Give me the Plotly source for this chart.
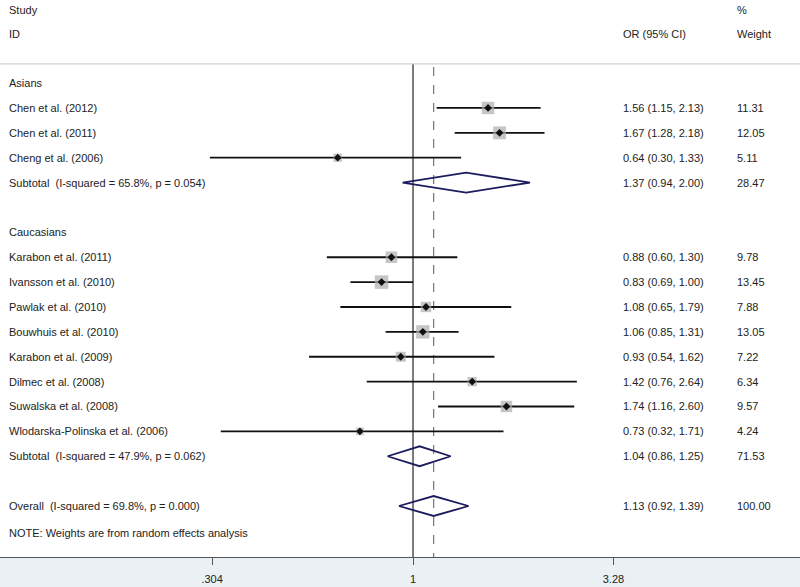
import plotly.graph_objects as go
import numpy as np

# ---------------- data ----------------
studies = ["Chen et al. (2012)", "Chen et al. (2011)", "Cheng et al. (2006)",
           "Karabon et al. (2011)", "Ivansson et al. (2010)", "Pawlak et al. (2010)",
           "Bouwhuis et al. (2010)", "Karabon et al. (2009)", "Dilmec et al. (2008)",
           "Suwalska et al. (2008)", "Wlodarska-Polinska et al. (2006)"]
study_rows = [1, 2, 3, 7, 8, 9, 10, 11, 12, 13, 14]
or_vals = [1.56, 1.67, 0.64, 0.88, 0.83, 1.08, 1.06, 0.93, 1.42, 1.74, 0.73]
ci_low = [1.15, 1.28, 0.30, 0.60, 0.69, 0.65, 0.85, 0.54, 0.76, 1.16, 0.32]
ci_high = [2.13, 2.18, 1.33, 1.30, 1.00, 1.79, 1.31, 1.62, 2.64, 2.60, 1.71]
weights = [11.31, 12.05, 5.11, 9.78, 13.45, 7.88, 13.05, 7.22, 6.34, 9.57, 4.24]

pooled_labels = ["Subtotal\u00a0 (I-squared = 65.8%, p = 0.054)",
                 "Subtotal\u00a0 (I-squared = 47.9%, p = 0.062)",
                 "Overall\u00a0 (I-squared = 69.8%, p = 0.000)"]
pooled_rows = [4, 15, 17]
pooled_or = [1.37, 1.04, 1.13]
pooled_low = [0.94, 0.86, 0.92]
pooled_high = [2.00, 1.25, 1.39]
pooled_w = [28.47, 71.53, 100.00]

group_labels = ["Asians", "Caucasians"]
group_rows = [0, 6]

tick_vals = [0.304, 1, 3.28]
tick_text = [".304", "1", "3.28"]

# ---------------- styling ----------------
FONT = "Arial, Liberation Sans, sans-serif"
TXT = "#222222"
FS = 11
W, H = 800, 587
X_LEFT = 8 / W
X_OR = 622 / W
X_WT = 736 / W

fig = go.Figure()

# reference lines
fig.add_trace(go.Scatter(x=[1, 1], y=[-0.77, 19.2], mode="lines",
                         line=dict(color="#444444", width=1.4), hoverinfo="skip"))
fig.add_trace(go.Scatter(x=[pooled_or[2], pooled_or[2]], y=[-0.65, 19.2], mode="lines",
                         line=dict(color="#777777", width=1.2, dash="dash"), hoverinfo="skip"))

# CI lines
for r, lo, hi in zip(study_rows, ci_low, ci_high):
    fig.add_trace(go.Scatter(x=[lo, hi], y=[r, r], mode="lines",
                             line=dict(color="#111111", width=1.8), hoverinfo="skip"))

# weight squares
fig.add_trace(go.Scatter(x=or_vals, y=study_rows, mode="markers",
                         marker=dict(symbol="square", color="#aeaeae",
                                     size=[3.7 * np.sqrt(w) for w in weights],
                                     line=dict(width=0))))
# point estimates
fig.add_trace(go.Scatter(x=or_vals, y=study_rows, mode="markers",
                         marker=dict(symbol="diamond", color="#111111", size=6,
                                     line=dict(width=0))))

# pooled diamonds
for r, e, lo, hi in zip(pooled_rows, pooled_or, pooled_low, pooled_high):
    fig.add_trace(go.Scatter(x=[lo, e, hi, e, lo], y=[r, r - 0.4, r, r + 0.4, r],
                             mode="lines", line=dict(color="#1c1c5e", width=1.8),
                             hoverinfo="skip"))

# separator line
fig.add_shape(type="line", xref="paper", yref="y", x0=0, x1=1, y0=-0.77, y1=-0.77,
              line=dict(color="#c8c8c8", width=1))

ann = []
def add_text(x, y, t):
    ann.append(dict(x=x, y=y, xref="paper", yref="y", text=t, showarrow=False,
                    xanchor="left", yanchor="middle", borderpad=0,
                    font=dict(family=FONT, size=FS, color=TXT)))

add_text(X_LEFT, -2.94, "Study")
add_text(X_LEFT, -1.97, "ID")
add_text(X_OR, -1.97, "OR (95% CI)")
add_text(X_WT, -2.94, "%")
add_text(X_WT, -1.97, "Weight")

for lab, r in zip(group_labels, group_rows):
    add_text(X_LEFT, r, lab)
for lab, r, e, lo, hi, w in zip(studies, study_rows, or_vals, ci_low, ci_high, weights):
    add_text(X_LEFT, r, lab)
    add_text(X_OR, r, f"{e:.2f} ({lo:.2f}, {hi:.2f})")
    add_text(X_WT, r, f"{w:.2f}")
for lab, r, e, lo, hi, w in zip(pooled_labels, pooled_rows, pooled_or, pooled_low, pooled_high, pooled_w):
    add_text(X_LEFT, r, lab)
    add_text(X_OR, r, f"{e:.2f} ({lo:.2f}, {hi:.2f})")
    add_text(X_WT, r, f"{w:.2f}")
add_text(X_LEFT, 18.1, "NOTE: Weights are from random effects analysis")

fig.update_layout(
    width=W, height=H,
    margin=dict(l=0, r=0, t=0, b=30, pad=0),
    paper_bgcolor="#eaf0f3",
    plot_bgcolor="#ffffff",
    showlegend=False,
    hovermode=False,
    annotations=ann,
    xaxis=dict(type="log", range=[-1.063, 0.996], tickvals=tick_vals, ticktext=tick_text,
               showgrid=False, zeroline=False, showline=True, linecolor="#555555",
               linewidth=1, ticks="outside", ticklen=7, tickcolor="#555555",
               ticklabelstandoff=5,
               tickfont=dict(family=FONT, size=FS, color=TXT), fixedrange=True),
    yaxis=dict(range=[19.05, -3.34], visible=False, fixedrange=True),
)

fig.write_html("out.html", config={"displayModeBar": False},
               post_script="document.body.style.margin='0';document.body.style.overflow='hidden';")
